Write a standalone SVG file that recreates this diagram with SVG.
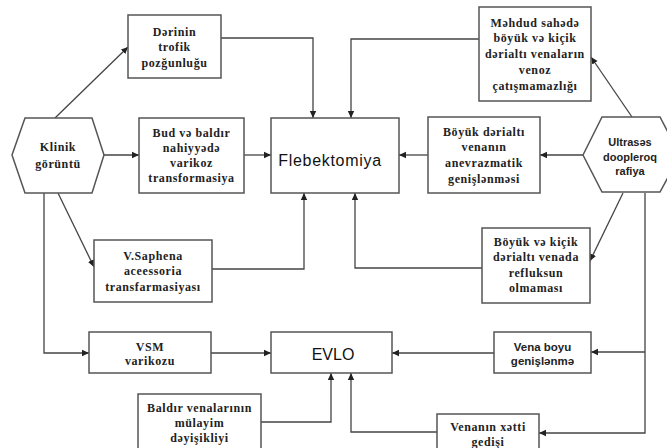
<svg xmlns="http://www.w3.org/2000/svg" width="667" height="448" viewBox="0 0 667 448">
<style>
.box{fill:#fff;stroke:#555;stroke-width:1.5}
.ln{fill:none;stroke:#444;stroke-width:1.3}
.ar{marker-end:url(#ah)}
.s{font-family:'Liberation Serif','Times New Roman',serif;font-weight:700;font-size:12px;letter-spacing:0.6px;fill:#222;text-anchor:middle}
.ss{font-family:'Liberation Sans',Arial,sans-serif;font-weight:700;font-size:11px;fill:#222;text-anchor:middle}
.big{font-family:'Liberation Sans',Arial,sans-serif;font-size:16px;fill:#111;text-anchor:middle}
</style>
<defs>
<marker id="ah" markerWidth="8" markerHeight="8" refX="7" refY="4" orient="auto" markerUnits="userSpaceOnUse">
<path d="M0,0.8 L7,4 L0,7.2 Z" fill="#222"/>
</marker>
</defs>
<rect width="667" height="448" fill="#fff"/>
<g id="connectors">
<path class="ln ar" d="M55,118 L128,47"/>
<path class="ln ar" d="M221,38 H313 V118"/>
<path class="ln ar" d="M104,155 H139"/>
<path class="ln ar" d="M244,155 H271"/>
<path class="ln ar" d="M58,193 L94,267"/>
<path class="ln ar" d="M212,269 H304 V193"/>
<path class="ln ar" d="M44,193 V353 H89"/>
<path class="ln ar" d="M211,353 H271"/>
<path class="ln ar" d="M479,39 H351 V118"/>
<path class="ln ar" d="M632,117 L591,57"/>
<path class="ln ar" d="M583,155 H540"/>
<path class="ln ar" d="M428,155 H399"/>
<path class="ln ar" d="M623,193 L590,261"/>
<path class="ln ar" d="M482,268 H355 V193"/>
<path class="ln ar" d="M645,193 V433 H539"/>
<path class="ln ar" d="M645,352 H591"/>
<path class="ln ar" d="M494,353 H392"/>
<path class="ln ar" d="M261,422 H331 V373"/>
<path class="ln ar" d="M437,432 H351 V373"/>
</g>
<g id="klinik">
<polygon class="box" points="12,155 25,118 92,118 104,155 92,193 25,193"/>
<text class="s" x="58" y="151">Klinik</text>
<text class="s" x="58" y="168">görüntü</text>
</g>
<g id="derinin">
<rect class="box" x="128" y="15" width="93" height="63"/>
<text class="s" x="174.5" y="36">Dərinin</text>
<text class="s" x="174.5" y="51">trofik</text>
<text class="s" x="174.5" y="67">pozğunluğu</text>
</g>
<g id="bud">
<rect class="box" x="139" y="118" width="105" height="75"/>
<text class="s" x="191.5" y="137">Bud və baldır</text>
<text class="s" x="191.5" y="152">nahiyyədə</text>
<text class="s" x="191.5" y="167">varikoz</text>
<text class="s" x="191.5" y="182">transformasiya</text>
</g>
<g id="flebektomiya">
<rect class="box" x="271" y="118" width="128" height="75"/>
<text class="big" x="330" y="166" style="letter-spacing:0.7px">Flebektomiya</text>
</g>
<g id="vsaphena">
<rect class="box" x="94" y="240" width="118" height="62"/>
<text class="s" x="153" y="260">V.Saphena</text>
<text class="s" x="153" y="275">aceessoria</text>
<text class="s" x="153" y="291">transfarmasiyası</text>
</g>
<g id="vsm">
<rect class="box" x="89" y="332" width="122" height="41"/>
<text class="s" x="150" y="351">VSM</text>
<text class="s" x="150" y="365">varikozu</text>
</g>
<g id="evlo">
<rect class="box" x="271" y="332" width="121" height="41"/>
<text class="big" x="333" y="360">EVLO</text>
</g>
<g id="baldir">
<rect class="box" x="138" y="394" width="123" height="60"/>
<text class="s" x="199.5" y="412">Baldır venalarının</text>
<text class="s" x="199.5" y="427">mülayim</text>
<text class="s" x="199.5" y="442">dəyişikliyi</text>
</g>
<g id="mehdud">
<rect class="box" x="479" y="7" width="112" height="94"/>
<text class="s" x="535" y="27">Məhdud sahədə</text>
<text class="s" x="535" y="42">böyük və kiçik</text>
<text class="s" x="535" y="58">dərialtı venaların</text>
<text class="s" x="535" y="74">venoz</text>
<text class="s" x="535" y="90">çatışmamazlığı</text>
</g>
<g id="boyuk-derialti">
<rect class="box" x="428" y="117" width="112" height="76"/>
<text class="s" x="484" y="136">Böyük dərialtı</text>
<text class="s" x="484" y="151">venanın</text>
<text class="s" x="484" y="167">anevrazmatik</text>
<text class="s" x="484" y="183">genişlənməsi</text>
</g>
<g id="ultrases">
<polygon class="box" points="583,155 602,117 660,117 680,155 660,192 602,192"/>
<text class="ss" x="630" y="146">Ultrasəs</text>
<text class="ss" x="630" y="161">doopleroq</text>
<text class="ss" x="630" y="175">rafiya</text>
</g>
<g id="boyuk-kicik">
<rect class="box" x="482" y="228" width="108" height="75"/>
<text class="s" x="536" y="246">Böyük və kiçik</text>
<text class="s" x="536" y="261">dərialtı venada</text>
<text class="s" x="536" y="277">refluksun</text>
<text class="s" x="536" y="292">olmaması</text>
</g>
<g id="vena-boyu">
<rect class="box" x="494" y="332" width="97" height="41"/>
<text class="ss" x="542.5" y="351" style="font-size:11.5px">Vena boyu</text>
<text class="ss" x="542.5" y="365" style="font-size:11.5px">genişlənmə</text>
</g>
<g id="venanin">
<rect class="box" x="437" y="414" width="102" height="40"/>
<text class="s" x="488" y="431">Venanın xətti</text>
<text class="s" x="488" y="446">gedişi</text>
</g>
</svg>
